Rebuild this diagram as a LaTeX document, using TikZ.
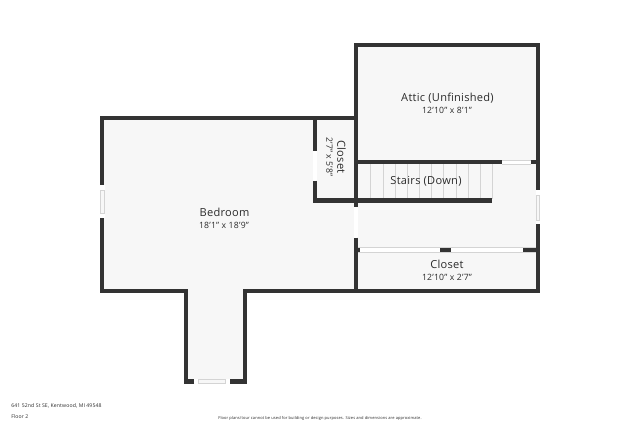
\documentclass[tikz,border=0pt]{standalone}
\usepackage{fontspec}
\setmainfont{Open Sans}[LetterSpace=2.5]
\tikzset{
  wall/.style={draw=wallgray, line width=3.2pt, line join=miter},
  glass/.style={draw=linegray, fill=floorgray, line width=.4pt},
  tread/.style={draw=linegray, line width=.4pt},
  roomname/.style={text=textgray, font=\fontsize{8.3}{10}\selectfont, inner sep=0pt},
  roomsize/.style={text=textgray, font=\fontsize{6.5}{8}\selectfont, inner sep=0pt},
  footer/.style={text=textgray, font=\fontsize{3.85}{5}\selectfont, inner sep=0pt}
}
\definecolor{wallgray}{HTML}{333333}
\definecolor{floorgray}{HTML}{F7F7F7}
\definecolor{linegray}{HTML}{D4D4D4}
\definecolor{textgray}{HTML}{2B2B2B}
\begin{document}
\begin{tikzpicture}[x=.75pt, y=-.75pt]
 \useasboundingbox (0,0) rectangle (640,427);
 \fill[white](0,0) rectangle (640,427);
 % floor
 \fill[floorgray](102,118)--(356,118)--(356,45)--(538,45)--(538,291)--(245,291)--(245,381)--(186,381)--(186,291)--(102,291)--cycle;
 % openings
 \fill[white](100,185) rectangle (104.7,217.7);
 \draw[glass](100.5,190) rectangle (104.2,213);
 \fill[white](194,379.2) rectangle (230,384);
 \draw[glass](198.5,379.6) rectangle (225.5,383.6);
 \fill[white](535.7,190) rectangle (540,224.3);
 \draw[glass](536,195) rectangle (539.7,220);
 \fill[white](353.8,206.7) rectangle (358.2,237.7);
 \fill[white](312.7,150.7) rectangle (316.7,180.7);
 \fill[white](502,160.3) rectangle (530.7,164.3);
 \draw[tread](502,160.3)--(530.7,160.3);
 \draw[tread](502,164.3)--(530.7,164.3);
 % closet front
 \fill[white](358,247.7) rectangle (536,252.5);
 \draw[tread](358,247.7)--(536,247.7);
 \draw[tread](358,252.5)--(536,252.5);
 \fill[wallgray](440,248) rectangle (450.7,252.5);
 \fill[wallgray](523,248) rectangle (536,252.5);
 \fill[wallgray](357.5,248) rectangle (359.5,252.5);
 % stairs
 \foreach \i in {0,...,10}
   \draw[tread](370.7+12.16*\i,164)--(370.7+12.16*\i,199);
 % walls
 \draw[wall](356,206.7)--(356,45.2)--(537.8,45.2)--(537.8,190);
 \draw[wall](537.8,224.3)--(537.8,291.2)--(245.2,291.2)--(245.2,381.5)--(230,381.5);
 \draw[wall](194,381.5)--(186.2,381.5)--(186.2,291.2)--(102.3,291.2)--(102.3,217.7);
 \draw[wall](102.3,185)--(102.3,118)--(356,118);
 \draw[wall](356,237.7)--(356,291.2);
 \draw[wall](314.7,118)--(314.7,150.7);
 \draw[wall](314.7,180.7)--(314.7,200.5)--(492.3,200.5);
 \draw[wall](356,162.3)--(502,162.3);
 \draw[wall](530.7,162.3)--(537.8,162.3);
 % labels
 \node[roomname] (attic) at (447.5,98) {Attic (Unfinished)};
 \node[roomsize] (atticsize) at (447,110.5) {12'10" x 8'1"};
 \node[roomname] (stairs) at (426,181.5) {Stairs (Down)};
 \node[roomname] (bedroom) at (224.5,212.7) {Bedroom};
 \node[roomsize] (bedroomsize) at (224,225.5) {18'1" x 18'9"};
 \node[roomname] (closetfront) at (447,264.7) {Closet};
 \node[roomsize] (closetfrontsize) at (447,277) {12'10" x 2'7"};
 \node[roomname, rotate=-90] (closet) at (341.5,157) {Closet};
 \node[roomsize, rotate=-90] (closetsize) at (329.5,157) {2'7" x 5'8"};
 \node[footer, anchor=west] (address) at (11,406) {641 52nd St SE, Kentwood, MI 49548};
 \node[footer, anchor=west] (floornum) at (11,416.5) {Floor 2};
 \node[footer, font=\fontsize{3}{4}\selectfont] (disclaimer) at (320,418.5) {Floor plans/tour cannot be used for building or design purposes. Sizes and dimensions are approximate.};
\end{tikzpicture}
\end{document}
